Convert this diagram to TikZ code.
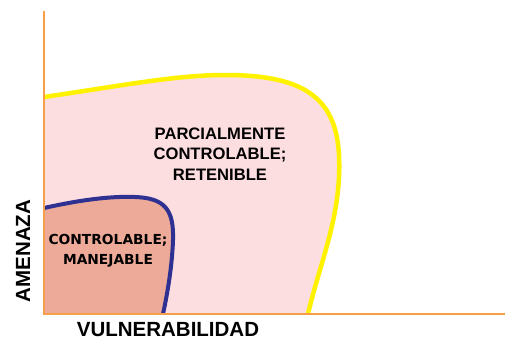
\documentclass[tikz,border=0pt]{standalone}
\usepackage{fontspec}
\setmainfont{Liberation Sans}
\newfontfamily\heavyfont{DejaVu Sans}
\usepackage{tikz}
\definecolor{ejeorange}{HTML}{F5A048}
\definecolor{zonapink}{HTML}{FCDDE0}
\definecolor{zonasalmon}{HTML}{EDAA98}
\definecolor{bordeyellow}{HTML}{FFF200}
\definecolor{bordeblue}{HTML}{2E3192}

\begin{document}
\begin{tikzpicture}[x=1pt,y=-1pt]
\tikzset{eje/.style = {draw=ejeorange, line width=2pt},
  etiqueta/.style = {font=\fontsize{20.5}{24}\selectfont\bfseries, inner sep=0pt},
  zona/.style = {font=\fontsize{16.6}{20.5}\selectfont\bfseries, align=center, inner sep=0pt}}
\useasboundingbox (0,0) rectangle (505,340);
% zona parcialmente controlable
\fill[zonapink] (44,97) .. controls (120,86) and (175,75) .. (225,75)
   .. controls (300,75) and (336,95) .. (339,155)
   .. controls (342,215) and (320,262) .. (308,314) -- (44,314) -- cycle;
\draw[bordeyellow, line width=4.5pt] (44,97) .. controls (120,86) and (175,75) .. (225,75)
   .. controls (300,75) and (336,95) .. (339,155)
   .. controls (342,215) and (320,262) .. (308,314);
% zona controlable
\fill[zonasalmon] (44,208) .. controls (80,200) and (110,196) .. (135,197)
   .. controls (165,198) and (174,210) .. (173,240)
   .. controls (172,270) and (166,300) .. (163,314) -- (44,314) -- cycle;
\draw[bordeblue, line width=4pt] (44,208) .. controls (80,200) and (110,196) .. (135,197)
   .. controls (165,198) and (174,210) .. (173,240)
   .. controls (172,270) and (166,300) .. (163,314);
% ejes
\coordinate (origen) at (44,314);
\coordinate (ytop) at (44,11);
\coordinate (xend) at (505,314);
\draw[eje] (ytop) -- (origen) -- (xend);
\node[zona] (parcial) at (220,154) {PARCIALMENTE\\CONTROLABLE;\\RETENIBLE};
\node[zona, font=\heavyfont\fontsize{13.8}{20}\selectfont\bfseries] (control) at (108,251) {CONTROLABLE;\\MANEJABLE};
\node[etiqueta, rotate=90] (amenaza) at (23,251) {AMENAZA};
\node[etiqueta] (vulnera) at (168,330) {VULNERABILIDAD};
\end{tikzpicture}
\end{document}
